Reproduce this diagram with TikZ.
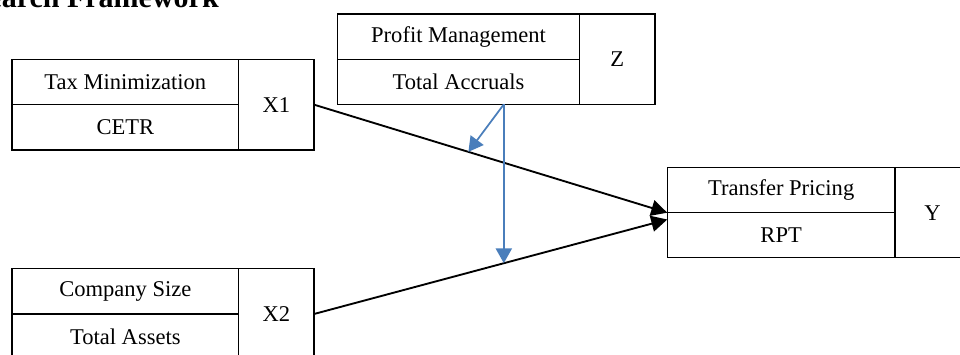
\documentclass[tikz,border=0pt]{standalone}
\usepackage{fontspec}
\setmainfont{Liberation Serif}
\usetikzlibrary{arrows.meta,calc}
\definecolor{connblue}{RGB}{74,126,187}
\begin{document}
\begin{tikzpicture}[x=0.75pt,y=-0.75pt,
  cell/.style={draw=black, line width=0.85pt, inner sep=0pt, outer sep=0pt, anchor=north west,
    font=\fontsize{16.9}{20}\selectfont},
  blk/.style={draw=black, line width=1.4pt, -{Triangle[length=12pt,width=12pt]}},
  blu/.style={draw=connblue, line width=1.3pt, -{Triangle[length=11pt,width=12pt]}},
  ttl/.style={font=\bfseries\fontsize{22.5}{27}\selectfont, inner sep=0pt, anchor=base east}
]
\useasboundingbox (0,0) rectangle (960,354);
\clip (0,0) rectangle (960,354);

\node[ttl] (title) at (219,7) {Research Framework};

% Tax Minimization
\node[cell, minimum width=226.7*0.75pt, minimum height=45.3*0.75pt] (tmA) at (12,59.3) {Tax Minimization};
\node[cell, minimum width=226.7*0.75pt, minimum height=45.4*0.75pt] (tmB) at (12,104.6) {CETR};
\node[cell, minimum width=75.3*0.75pt, minimum height=90.7*0.75pt] (x1) at (238.7,59.3) {X1};

% Profit Management
\node[cell, minimum width=242.4*0.75pt, minimum height=45.3*0.75pt] (pmA) at (337.3,14) {Profit Management};
\node[cell, minimum width=242.4*0.75pt, minimum height=45*0.75pt] (pmB) at (337.3,59.3) {Total Accruals};
\node[cell, minimum width=75.3*0.75pt, minimum height=90.3*0.75pt] (z) at (579.7,14) {Z};

% Company Size
\node[cell, minimum width=226.7*0.75pt, minimum height=45.7*0.75pt] (csA) at (12,268.3) {Company Size};
\node[cell, minimum width=226.7*0.75pt, minimum height=45.7*0.75pt] (csB) at (12,314) {Total Assets};
\node[cell, minimum width=75.3*0.75pt, minimum height=91.4*0.75pt] (x2) at (238.7,268.3) {X2};

% Transfer Pricing
\node[cell, minimum width=227.7*0.75pt, minimum height=45*0.75pt] (tpA) at (667.3,167.7) {Transfer Pricing};
\node[cell, minimum width=227.7*0.75pt, minimum height=45*0.75pt] (tpB) at (667.3,212.7) {RPT};
\node[cell, minimum width=75*0.75pt, minimum height=90*0.75pt] (y) at (895,167.7) {Y};

% connectors
\coordinate (tpin2) at ($(tpB.north west)+(0,6.8)$);
\draw[blk] (x1.east) -- (tpA.south west);
\draw[blk] (x2.east) -- (tpin2);

\coordinate (zs) at ($(pmB.south west)!0.687!(pmB.south east)$);
\coordinate (m1) at ($(x1.east)!0.437!(tpA.south west)$);
\coordinate (m2) at ($(x2.east)!0.538!(tpin2)$);
\draw[blu] (zs) -- (m1);
\draw[blu] (zs) -- (zs |- m2);
\end{tikzpicture}
\end{document}
